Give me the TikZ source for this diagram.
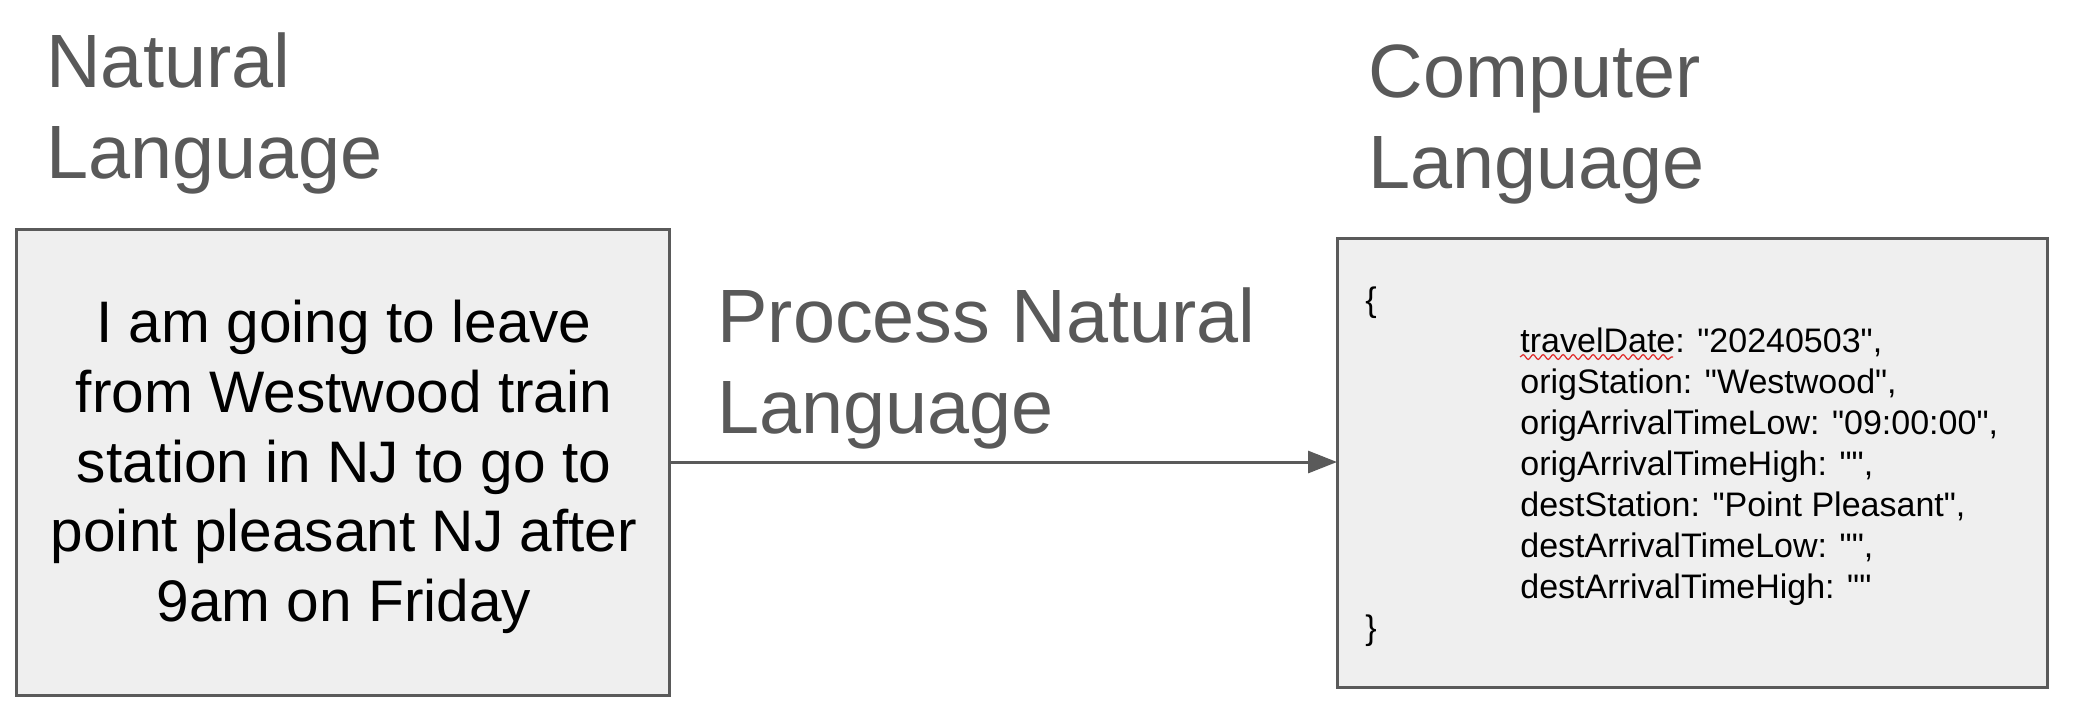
\documentclass[tikz,border=0pt]{standalone}
\usepackage{fontspec}
\setmainfont{Liberation Sans}
\newfontfamily\jsonfont{Liberation Sans}
\usetikzlibrary{arrows.meta,decorations.pathmorphing}
\definecolor{hgray}{HTML}{595959}
\definecolor{boxfill}{HTML}{EFEFEF}
\definecolor{boxline}{HTML}{5A5A5A}
\definecolor{squig}{HTML}{E02B2B}
\begin{document}
\begin{tikzpicture}[x=0.5pt,y=-0.5pt,
  heading/.style={anchor=base west, inner sep=0pt, align=left, text=hgray,
    font=\fontsize{37.8pt}{45.5pt}\selectfont},
  panel/.style={draw=boxline, line width=1.5pt, fill=boxfill, inner sep=0pt, outer sep=0pt},
  plain/.style={align=center, inner sep=0pt, font=\fontsize{29.3pt}{34.9pt}\selectfont},
  json/.style={anchor=base west, inner sep=0pt, align=left,
    font=\jsonfont\fontsize{17pt}{20.5pt}\selectfont},
  conn/.style={draw=boxline, line width=1.5pt, -{Triangle[length=14.5pt,width=11pt]}},
  spell/.style={draw=squig, line width=0.6pt, decorate,
    decoration={snake, amplitude=1.2pt, segment length=5pt}}]
\useasboundingbox (0,0) rectangle (2075,709);
% boxes
\node[panel, minimum width=326.5pt, minimum height=233pt] (nl) at (342.5,462) {};
\node[panel, minimum width=355pt, minimum height=224.5pt] (cl) at (1692,462.5) {};
\node[plain] (nltext) at (344,467)
  {I am going to leave\\from Westwood train\\station in NJ to go to\\point pleasant NJ after\\9am on Friday};
% headings (anchored at the baseline of the last line)
\node[heading] (hnl) at (46,178) {Natural\\Language};
\node[heading] (hcl) at (1368,188) {Computer\\Language};
\node[heading] (hpr) at (717,433) {Process Natural\\Language};
% code
\node[json] (code) at (1365,639) {\{\\
\hspace*{77.5pt}travelDate: "20240503",\\
\hspace*{77.5pt}origStation: "Westwood",\\
\hspace*{77.5pt}origArrivalTimeLow: "09:00:00",\\
\hspace*{77.5pt}origArrivalTimeHigh: "",\\
\hspace*{77.5pt}destStation: "Point Pleasant",\\
\hspace*{77.5pt}destArrivalTimeLow: "",\\
\hspace*{77.5pt}destArrivalTimeHigh: ""\\
\}};
\coordinate (sqa) at (1520,357);
\coordinate (sqb) at (1673,357);
\draw[spell] (sqa) -- (sqb);
% connector
\draw[conn] (nl.east) -- (nl.east -| cl.west);
\end{tikzpicture}
\end{document}
